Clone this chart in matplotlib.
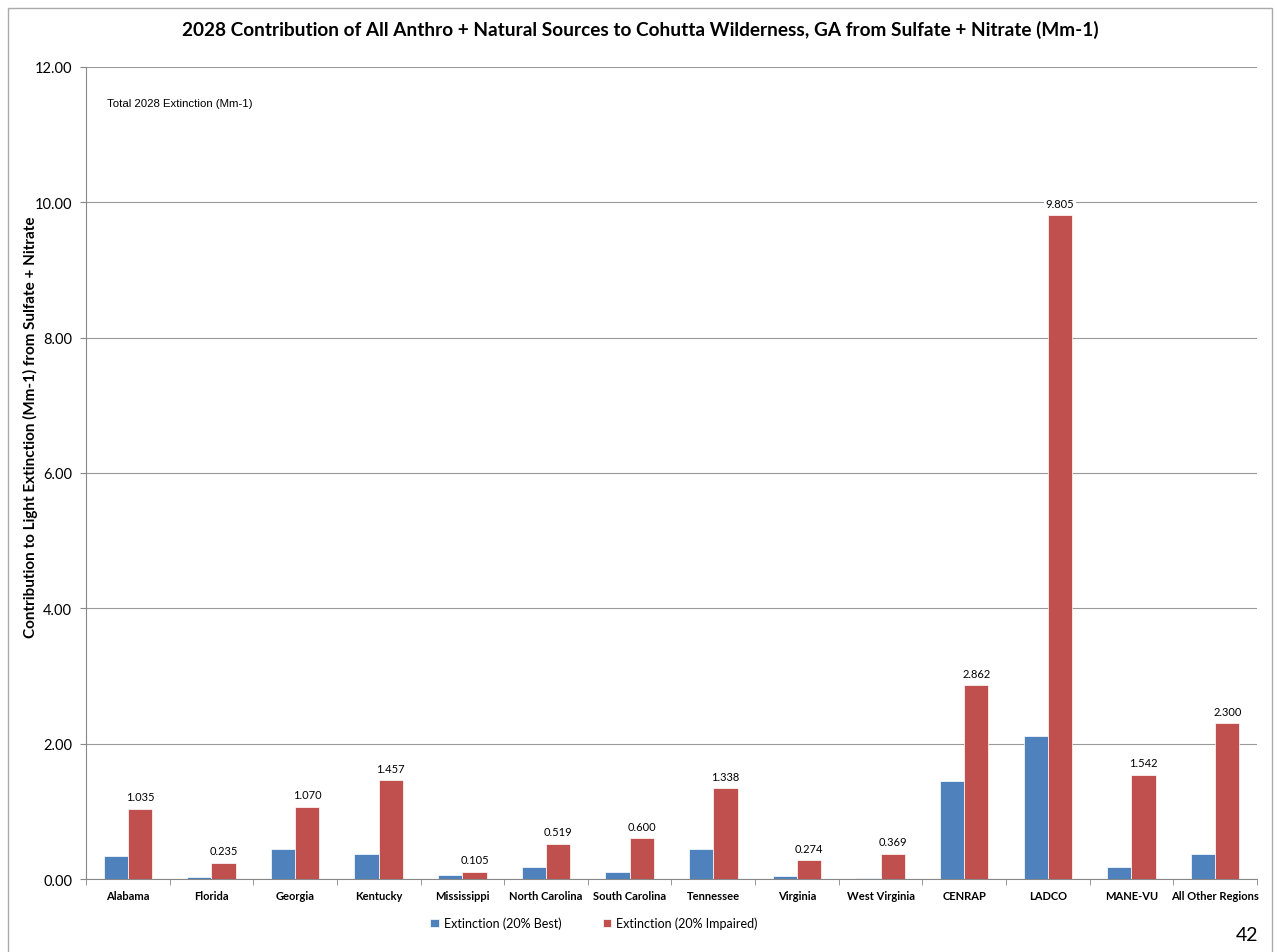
import matplotlib.pyplot as plt
import numpy as np
from matplotlib.patches import Rectangle

regions = ['Alabama', 'Florida', 'Georgia', 'Kentucky', 'Mississippi', 'North Carolina',
           'South Carolina', 'Tennessee', 'Virginia', 'West Virginia', 'CENRAP', 'LADCO',
           'MANE-VU', 'All Other Regions']
best = [0.34, 0.03, 0.45, 0.365, 0.055, 0.17, 0.11, 0.45, 0.04, 0.02, 1.45, 2.11, 0.18, 0.37]
impaired = [1.035, 0.235, 1.070, 1.457, 0.105, 0.519, 0.600, 1.338, 0.274, 0.369,
            2.862, 9.805, 1.542, 2.300]

blue = '#4f81bd'
red = '#c0504d'
font = ['Lato', 'DejaVu Sans']

fig = plt.figure(figsize=(12.77, 9.53), dpi=100)
ax = fig.add_axes([0.0673, 0.0766, 0.917, 0.8521])

x = np.arange(len(regions))
w = 0.29
ax.bar(x - w / 2, best, w, color=blue, edgecolor='white', linewidth=0.5,
       label='Extinction (20% Best)', zorder=3)
bars = ax.bar(x + w / 2, impaired, w, color=red, edgecolor='white', linewidth=0.5,
              label='Extinction (20% Impaired)', zorder=3)
for b, v in zip(bars, impaired):
    ax.text(b.get_x() + b.get_width() / 2, v + 0.1, f'{v:.3f}', ha='center', va='bottom',
            fontsize=8, family=font, zorder=4,
            bbox=dict(facecolor='white', edgecolor='none', pad=1) if v > 9 else None)

ax.set_xlim(-0.5, len(regions) - 0.5)
ax.set_ylim(0, 12)
ax.set_yticks(np.arange(0, 12.1, 2))
ax.set_yticklabels([f'{t:.2f}' for t in np.arange(0, 12.1, 2)], family=font, fontsize=10.5)
ax.yaxis.grid(True, color='#999999', linewidth=0.8, zorder=0)
ax.set_xticks(x)
ax.set_xticklabels(regions, family=font, fontsize=8, fontweight='bold')
ax.set_xticks(np.arange(-0.5, len(regions)), minor=True)
ax.tick_params(axis='x', which='major', length=0, pad=8)
ax.tick_params(axis='x', which='minor', length=4, color='#888888')
ax.tick_params(axis='y', length=4, color='#888888', pad=6)
for s in ['top', 'right']:
    ax.spines[s].set_visible(False)
for s in ['left', 'bottom']:
    ax.spines[s].set_color('#888888')

fig.text(30 / 1277, 1 - 427 / 953,
         'Contribution to Light Extinction (Mm-1) from Sulfate + Nitrate',
         family=font, fontsize=11, fontweight='bold', rotation=90, ha='center', va='center')
fig.text(640 / 1277, 1 - 30 / 953,
         '2028 Contribution of All Anthro + Natural Sources to Cohutta Wilderness, GA from Sulfate + Nitrate (Mm-1)',
         family=font, fontsize=13.7, fontweight='bold', ha='center', va='center')
ax.text(0.018, 0.955, 'Total 2028 Extinction (Mm-1)', transform=ax.transAxes,
        family=['Liberation Sans', 'DejaVu Sans'], fontsize=8.2, va='center')

fig.legend(*ax.get_legend_handles_labels(), loc='center', bbox_to_anchor=(594 / 1277, 1 - 924 / 953),
           ncol=2, frameon=False, prop={'family': font, 'size': 9}, handlelength=0.7,
           handleheight=0.7, columnspacing=3.3, handletextpad=0.4)

fig.text(1258 / 1277, 1 - 936 / 953, '42', ha='right', va='center', fontsize=14, family=font)
fig.patches.append(Rectangle((0.006, -0.01), 0.99, 1.001, transform=fig.transFigure,
                             fill=False, edgecolor='#aaaaaa', linewidth=1))

fig.savefig('out.png', dpi=100)
